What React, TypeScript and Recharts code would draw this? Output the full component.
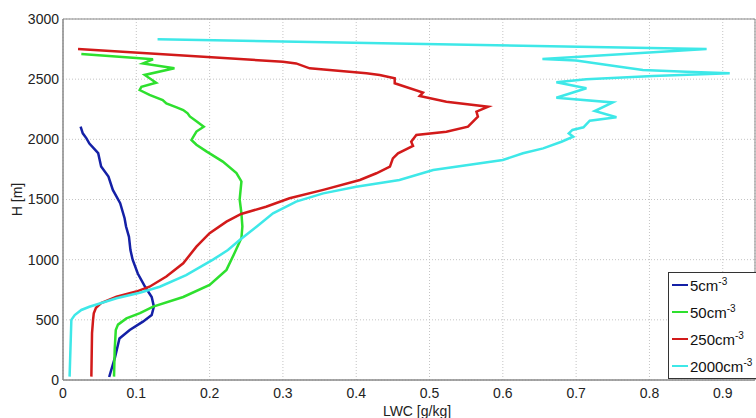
import { ScatterChart, Scatter, XAxis, YAxis, CartesianGrid, Legend, ReferenceArea } from 'recharts'

// heights [m] and LWC [g/kg], bottom to top
const h5 = [25, 190, 345, 415, 485, 540, 610, 690, 775, 885, 1000, 1080, 1190, 1275, 1344, 1470, 1580, 1690, 1775, 1885, 1965, 2008, 2050, 2105]
const lwc5 = [0.063, 0.071, 0.077, 0.091, 0.109, 0.121, 0.124, 0.121, 0.112, 0.102, 0.095, 0.092, 0.09, 0.086, 0.084, 0.078, 0.068, 0.062, 0.052, 0.048, 0.036, 0.032, 0.027, 0.024]

const h50 = [28, 250, 415, 460, 512, 555, 610, 690, 790, 915, 1055, 1180, 1275, 1385, 1500, 1650, 1720, 1815, 1900, 1955, 1995, 2065, 2105, 2150, 2190, 2216, 2244, 2266, 2299, 2327, 2369, 2410, 2437, 2471, 2535, 2590, 2631, 2665, 2673, 2709]
const lwc50 = [0.0696, 0.0705, 0.072, 0.075, 0.0865, 0.105, 0.123, 0.164, 0.2, 0.223, 0.234, 0.2434, 0.2447, 0.2434, 0.241, 0.2434, 0.2366, 0.218, 0.1956, 0.182, 0.1752, 0.182, 0.192, 0.182, 0.173, 0.17, 0.164, 0.155, 0.141, 0.136, 0.118, 0.1046, 0.107, 0.127, 0.1115, 0.152, 0.109, 0.1228, 0.1046, 0.025]

const h250 = [28, 390, 500, 555, 600, 640, 692, 735, 775, 860, 970, 1108, 1220, 1316, 1380, 1440, 1510, 1580, 1662, 1718, 1773, 1842, 1884, 1945, 1981, 2036, 2063, 2105, 2188, 2230, 2271, 2313, 2360, 2388, 2466, 2507, 2535, 2549, 2590, 2631, 2645, 2751]
const lwc250 = [0.0387, 0.0396, 0.041, 0.042, 0.045, 0.052, 0.073, 0.1, 0.118, 0.141, 0.164, 0.182, 0.2, 0.223, 0.243, 0.277, 0.309, 0.355, 0.405, 0.4275, 0.446, 0.45, 0.457, 0.4775, 0.475, 0.482, 0.523, 0.5525, 0.566, 0.564, 0.58, 0.523, 0.4866, 0.491, 0.4525, 0.4525, 0.432, 0.414, 0.3365, 0.318, 0.3, 0.0205]

const h2000 = [28, 500, 540, 582, 609, 679, 725, 775, 872, 1000, 1080, 1163, 1274, 1385, 1482, 1551, 1606, 1662, 1745, 1828, 1884, 1925, 1980, 2022, 2050, 2078, 2100, 2155, 2183, 2235, 2307, 2346, 2424, 2474, 2499, 2526, 2549, 2562, 2576, 2604, 2656, 2668, 2751, 2831]
const lwc2000 = [0.009, 0.0114, 0.016, 0.025, 0.036, 0.073, 0.1046, 0.132, 0.168, 0.2046, 0.225, 0.241, 0.264, 0.2865, 0.318, 0.355, 0.4, 0.459, 0.505, 0.6, 0.6275, 0.655, 0.68, 0.696, 0.69, 0.695, 0.71, 0.7186, 0.755, 0.7254, 0.75, 0.673, 0.714, 0.673, 0.714, 0.805, 0.9095, 0.85, 0.791, 0.7595, 0.7, 0.654, 0.878, 0.129]

const xTicks = [0, 0.1, 0.2, 0.3, 0.4, 0.5, 0.6, 0.7, 0.8, 0.9]
const yTicks = [0, 500, 1000, 1500, 2000, 2500, 3000]

const zip = (h: number[], v: number[]) => h.map((y, i) => ({ lwc: v[i], h: y }))

const series = [
  { name: '5cm', color: '#1420a6', data: zip(h5, lwc5) },
  { name: '50cm', color: '#2ee02e', data: zip(h50, lwc50) },
  { name: '250cm', color: '#d21a1a', data: zip(h250, lwc250) },
  { name: '2000cm', color: '#3ee8e8', data: zip(h2000, lwc2000) },
]

const font = '"Liberation Sans", Arial, sans-serif'
const X_MAX = 0.944

const LegendBox = () => (
  <div style={{ position: 'relative', width: 92, height: 107, border: '1px solid #333', background: '#fff', boxSizing: 'border-box', fontFamily: font, fontSize: 15, color: '#111' }}>
    {series.map((s, i) => (
      <div key={s.name} style={{ position: 'absolute', left: 3, top: i * 27 - 2, height: 27, display: 'flex', alignItems: 'center', whiteSpace: 'nowrap' }}>
        <span style={{ display: 'inline-block', width: 16, borderTop: `2px solid ${s.color}`, marginRight: 2 }} />
        <span>{s.name}<sup style={{ fontSize: 10 }}>-3</sup></span>
      </div>
    ))}
  </div>
)

export default function App() {
  return (
    <div style={{ position: 'absolute', left: 0, top: 0, width: 756, height: 418, background: '#fff' }}>
      <ScatterChart width={756} height={418} margin={{ top: 19, right: 1, bottom: 0, left: 0 }} style={{ fontFamily: font }}>
        <CartesianGrid stroke="#c4c4c4" strokeDasharray="1 2" />
        <XAxis
          type="number"
          dataKey="lwc"
          domain={[0, X_MAX]}
          ticks={xTicks}
          allowDataOverflow
          height={38}
          tickSize={0}
          tickMargin={8}
          axisLine={{ stroke: '#888' }}
          tick={{ fill: '#222', fontSize: 14 }}
          label={{ value: 'LWC [g/kg]', position: 'insideBottom', offset: 2, fill: '#222', fontSize: 14, dx: 8 }}
        />
        <YAxis
          type="number"
          dataKey="h"
          domain={[0, 3000]}
          ticks={yTicks}
          width={63}
          tickSize={0}
          tickMargin={4}
          axisLine={{ stroke: '#888' }}
          tick={{ fill: '#222', fontSize: 14 }}
          label={{ value: 'H [m]', angle: -90, position: 'insideLeft', offset: 17, fill: '#222', fontSize: 14, style: { textAnchor: 'middle' } }}
        />
        <ReferenceArea x1={0} x2={X_MAX} y1={0} y2={3000} fill="none" stroke="#888" />
        {series.map((s) => (
          <Scatter
            key={s.name}
            name={s.name}
            data={s.data}
            line={{ stroke: s.color, strokeWidth: 2.5 }}
            shape={() => <g />}
            isAnimationActive={false}
          />
        ))}
        <Legend
          layout="vertical"
          align="center"
          verticalAlign="middle"
          content={LegendBox}
          wrapperStyle={{ position: 'absolute', left: 668, top: 272, width: 92, height: 107 }}
        />
      </ScatterChart>
    </div>
  )
}
